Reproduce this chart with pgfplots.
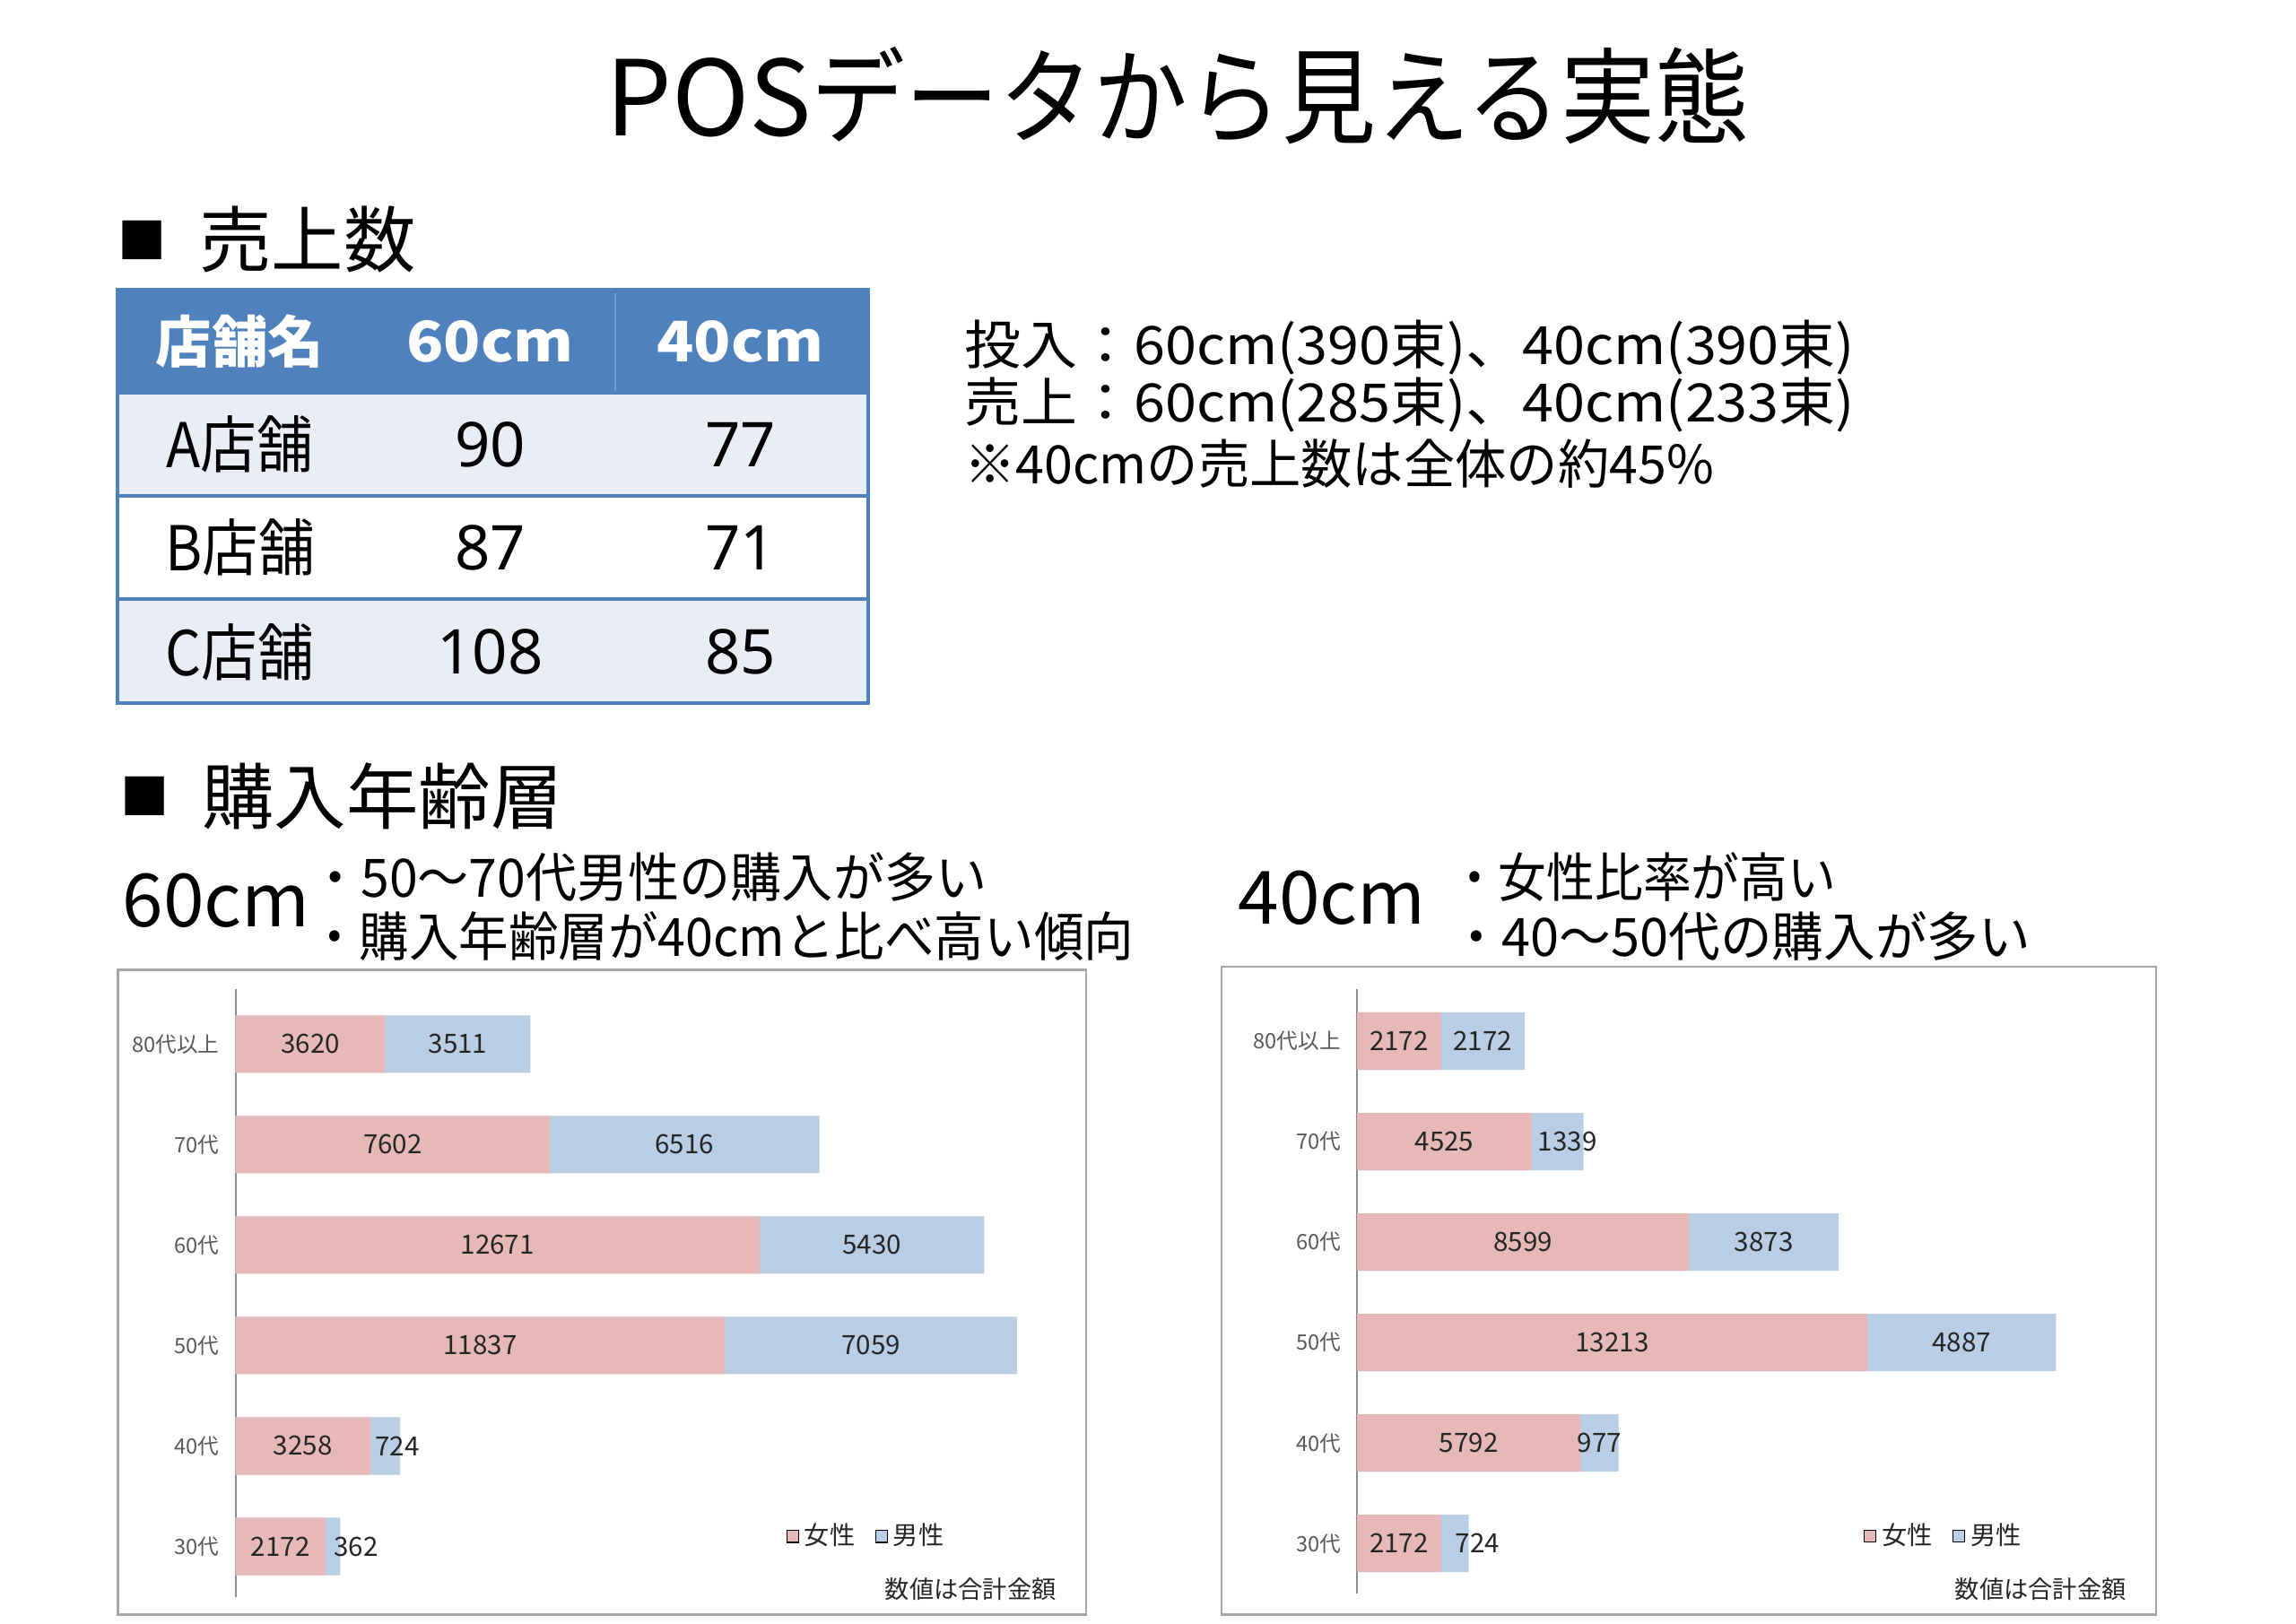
\documentclass[border=0pt]{standalone}
\usepackage{pgfplots}
\pgfplotsset{compat=1.18}
\usepackage{pgfplotstable}
\usepackage{fontspec}
\setmainfont{Noto Sans CJK JP}
\newfontfamily\latfont{Noto Sans}

\definecolor{tblue}{HTML}{4F81BD}
\definecolor{rowlight}{HTML}{E9EDF4}
\definecolor{barpink}{HTML}{E6B9B8}
\definecolor{barblue}{HTML}{B9CDE5}
\definecolor{boxgray}{HTML}{A6A6A6}
\definecolor{axisgray}{HTML}{8C8C8C}
\definecolor{labelgray}{HTML}{595959}
\definecolor{labeldark}{HTML}{262626}

\newcommand\fs[1]{\fontsize{#1}{#1}\selectfont}
\newcommand\st[1]{\addfontfeature{FakeStretch=#1}}

% y: 0 = 30代 ... 5 = 80代以上; f = 女性, m = 男性, mdx = label nudge for small segments
\pgfplotstableread{
y f m mdx
0 2172 362 565
1 3258 724 295
2 11837 7059 0
3 12671 5430 0
4 7602 6516 0
5 3620 3511 0
}\sixty

\pgfplotstableread{
y f m mdx
0 2172 724 590
1 5792 977 0
2 13213 4887 0
3 8599 3873 0
4 4525 1339 255
5 2172 2172 0
}\forty

\pgfplotsset{
  agechart/.style={
    scale only axis,
    anchor=south west,
    xmin=0, xmax=20000,
    ymin=-0.5,
    axis x line=none,
    axis y line*=left,
    y axis line style={draw=axisgray, line width=0.6pt},
    ytick={0,...,5},
    yticklabels={30代,40代,50代,60代,70代,80代以上},
    ytick style={draw=none},
    yticklabel style={font=\fs{7.2pt}, text=labelgray, xshift=-2pt},
    clip=false,
    legend columns=2,
    legend cell align=left,
    legend style={draw=none, fill=none, font=\fs{8.6pt}, text=labeldark,
      inner sep=0pt, nodes={inner sep=1.8pt},
      /tikz/every even column/.append style={column sep=5pt}},
    legend image code/.code={\fill[##1] (0pt,-2pt) rectangle (4pt,2pt);},
  },
  segbar/.style={xbar, bar shift=0pt, bar width=0.572, draw=none, forget plot},
  seglabel/.style={draw=none, mark=none, forget plot,
    nodes near coords={\pgfplotspointmeta},
    point meta=explicit symbolic,
    nodes near coords style={anchor=center, font=\fs{9pt}, text=labeldark}},
}

\begin{document}
\begin{tikzpicture}
\path[use as bounding box, fill=white] (0,0) rectangle (780pt,551.5pt);

% slide text, in the reference's 1560 x 1103 grid, y downwards
\begin{scope}[x=0.5pt, y=-0.5pt, yshift=551.5pt]
  \node[inner sep=0pt] at (800,65) {\fs{35.5pt}POS{\st{0.9}データから見える実態}};

  \node[inner sep=0pt] at (96.5,163) {\fs{16.5pt}■};
  \node[inner sep=0pt, anchor=west] at (135,163) {\fs{24.5pt}売上数};
  \node[inner sep=0pt] at (98.5,541) {\fs{16.5pt}■};
  \node[inner sep=0pt, anchor=west] at (137,541) {\fs{24.5pt}購入年齢層};

  % table
  \fill[tblue] (80,197) rectangle (590,267);
  \fill[rowlight] (80,267) rectangle (590,337);
  \fill[rowlight] (80,407) rectangle (590,478);
  \draw[tblue!80!white, line width=0.4pt] (418,199) -- (418,266);
  \draw[tblue, line width=1.2pt] (80,197) rectangle (590,478);
  \draw[tblue, line width=1.2pt] (80,267) -- (590,267) (80,337) -- (590,337) (80,407) -- (590,407);
  \begin{scope}[every node/.style={inner sep=0pt, text=white, font=\fs{19pt}\bfseries}]
    \node at (163,232) {店舗名};
    \node at (333,232) {\st{1.09}60cm};
    \node at (503,232) {\st{1.09}40cm};
  \end{scope}
  \begin{scope}[every node/.style={inner sep=0pt, font=\fs{21pt}}]
    \node at (163,302) {\st{0.91}A店舗}; \node at (333,302) {\latfont 90};  \node at (503,302) {\latfont 77};
    \node at (163,372) {\st{0.91}B店舗}; \node at (333,372) {\latfont 87};  \node at (503,372) {\latfont 71};
    \node at (163,443) {\st{0.91}C店舗}; \node at (333,443) {\latfont 108}; \node at (503,443) {\latfont 85};
  \end{scope}

  \begin{scope}[every node/.style={inner sep=0pt, anchor=west, font=\fs{18pt}}]
    \node at (655,236) {\st{1.065}投入：60cm(390束)、40cm(390束)};
    \node at (655,275) {\st{1.065}売上：60cm(285束)、40cm(233束)};
    \node at (655,315) {\st{0.97}※40cmの売上数は全体の約45\%};
  \end{scope}

  \node[inner sep=0pt, anchor=west] at (83,612) {\fs{25pt}60cm};
  \node[inner sep=0pt, anchor=west] at (841,610) {\fs{25pt}40cm};
  \begin{scope}[every node/.style={inner sep=0pt, anchor=west, font=\fs{18pt}}]
    \node at (210,596) {\st{0.967}・50～70代男性の購入が多い};
    \node at (210,636) {\st{0.94}・購入年齢層が40cmと比べ高い傾向};
    \node at (985,596) {\st{0.91}・女性比率が高い};
    \node at (985,636) {\st{0.976}・40～50代の購入が多い};
  \end{scope}

  % chart frames
  \draw[boxgray, line width=0.8pt] (80,659) rectangle (738,1097);
  \draw[boxgray, line width=0.8pt] (830,657) rectangle (1465,1097);
  \node[inner sep=0pt, anchor=east, text=labeldark] at (718,1080) {\fs{8.3pt}数値は合計金額};
  \node[inner sep=0pt, anchor=east, text=labeldark] at (1445,1080) {\fs{8.3pt}数値は合計金額};
\end{scope}

% 60cm chart
\begin{axis}[agechart, at={(80pt,9pt)}, width=281pt, height=206.5pt, ymax=5.55,
  legend style={at={(0.665,0.099)}, anchor=west}]
\addlegendimage{fill=barpink}\addlegendentry{女性}
\addlegendimage{fill=barblue}\addlegendentry{男性}
\addplot[segbar, fill=barblue] table[x expr=\thisrow{f}+\thisrow{m}, y=y]{\sixty};
\addplot[segbar, fill=barpink] table[x=f, y=y]{\sixty};
\addplot[seglabel] table[x expr=\thisrow{f}/2, y=y, meta=f]{\sixty};
\addplot[seglabel] table[x expr=\thisrow{f}+\thisrow{m}/2+\thisrow{mdx}, y=y, meta=m]{\sixty};
\end{axis}

% 40cm chart
\begin{axis}[agechart, at={(461pt,10pt)}, width=262.4pt, height=205.5pt, ymax=5.52,
  legend style={at={(0.655,0.095)}, anchor=west}]
\addlegendimage{fill=barpink}\addlegendentry{女性}
\addlegendimage{fill=barblue}\addlegendentry{男性}
\addplot[segbar, fill=barblue] table[x expr=\thisrow{f}+\thisrow{m}, y=y]{\forty};
\addplot[segbar, fill=barpink] table[x=f, y=y]{\forty};
\addplot[seglabel] table[x expr=\thisrow{f}/2, y=y, meta=f]{\forty};
\addplot[seglabel] table[x expr=\thisrow{f}+\thisrow{m}/2+\thisrow{mdx}, y=y, meta=m]{\forty};
\end{axis}
\end{tikzpicture}
\end{document}
